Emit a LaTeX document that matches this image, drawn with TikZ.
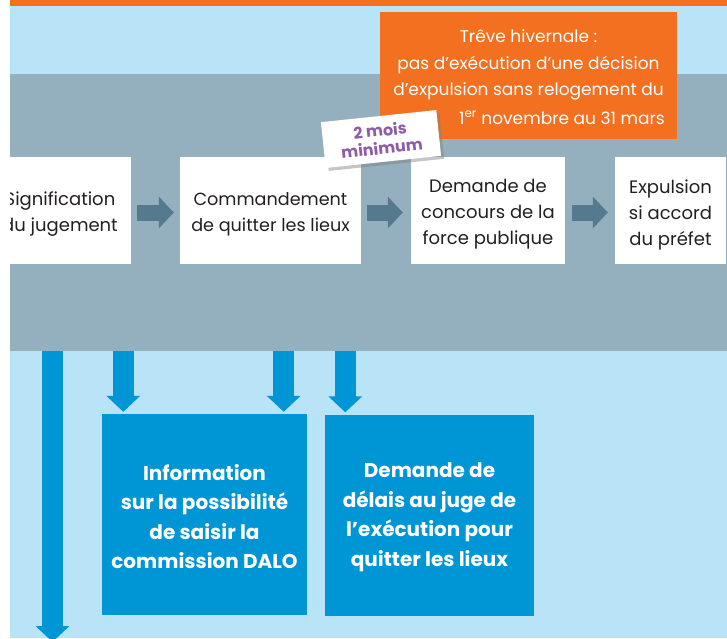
\documentclass[tikz,border=0pt]{standalone}
\usepackage{fontspec}
\setmainfont{Poppins}
\usetikzlibrary{arrows.meta,shadows}
\definecolor{orng}{HTML}{F37021}
\definecolor{lblue}{HTML}{B9E4F8}
\definecolor{bandc}{HTML}{94AFBD}
\definecolor{darr}{HTML}{557A8E}
\definecolor{bblue}{HTML}{0096D6}
\definecolor{purp}{HTML}{8F5BA8}
\definecolor{ink}{HTML}{231F20}
\begin{document}
\begin{tikzpicture}[x=1pt,y=-1pt,
  wbox/.style={fill=white, inner sep=0pt, minimum height=107pt},
  wtext/.style={text=ink, align=center, font=\fontsize{18}{26}\selectfont, inner sep=0pt},
  otext/.style={text=white, align=center, inner sep=0pt, font=\fontsize{17}{26.7}\selectfont},
  bbox/.style={fill=bblue, inner sep=0pt, minimum height=201pt},
  btext/.style={text=white, align=center, font=\bfseries\fontsize{20}{29.5}\selectfont, inner sep=0pt},
  grayarrow/.style={draw=darr, line width=16pt, -{Triangle[width=31pt,length=15pt]}},
  bluearrow/.style={draw=bblue, line width=21pt, -{Triangle[width=33pt,length=16pt]}},
]
\useasboundingbox (0,0) rectangle (727,638);
\fill[white] (0,0) rectangle (727,638);
\begin{scope}
\clip (10,0) rectangle (727,638);
\fill[lblue] (10,0) rectangle (727,638);
\fill[orng] (10,0) rectangle (727,6);
\node[fill=bandc, minimum width=717pt, minimum height=277pt, inner sep=0pt, anchor=north west] (band) at (10,74) {};
% winter truce
\node[fill=orng, minimum width=297pt, minimum height=127pt, inner sep=0pt] (treve) at (528.5,75.5) {};
\node[otext] (trevet) at (528.5,65) {Trêve hivernale :\\ pas d’exécution d’une décision\\ d’expulsion sans relogement du};
\node[otext, anchor=base east] (trevet2) at (665,124) {1\textsuperscript{er} novembre au 31 mars};
% main steps
\node[wbox, minimum width=148pt] (b1) at (57,210.5) {};
\node[wtext] (b1t) at ([xshift=3pt,yshift=-4pt]b1.center) {Signification\\ du jugement};
\node[wbox, minimum width=181pt] (b2) at (270.5,210.5) {};
\node[wtext, font=\fontsize{17.6}{26}\selectfont] (b2t) at ([yshift=-4pt]b2.center) {Commandement\\ de quitter les lieux};
\node[wbox, minimum width=154pt] (b3) at (488,210.5) {};
\node[wtext] (b3t) at ([yshift=-4pt]b3.center) {Demande de\\ concours de la\\ force publique};
\node[wbox, minimum width=111pt] (b4) at (670.5,210.5) {};
\node[wtext] (b4t) at ([yshift=-4pt]b4.center) {Expulsion\\ si accord\\ du préfet};
% tag
\node[fill=white, text=purp, align=center, rotate=6, minimum width=116pt, minimum height=46pt, inner sep=0pt, font=\bfseries\fontsize{16}{18}\selectfont, drop shadow={shadow xshift=3pt, shadow yshift=-3pt, opacity=0.45}] (tag) at (381,139) {2 mois\\ minimum};
% gray arrows
\draw[grayarrow, shorten <=6pt, shorten >=6pt] ([yshift=-2pt]b1.east) -- ([yshift=-2pt]b1.east -| b2.west);
\draw[grayarrow, shorten <=6pt, shorten >=8pt] ([yshift=-2pt]b2.east) -- ([yshift=-2pt]b2.east -| b3.west);
\draw[grayarrow, shorten <=7pt, shorten >=7pt] ([yshift=-2pt]b3.east) -- ([yshift=-2pt]b3.east -| b4.west);
% blue boxes
\node[bbox, minimum width=205pt] (ba) at (204.5,514.5) {};
\node[btext] (bat) at ([yshift=-2pt]ba.center) {Information\\ sur la possibilité\\ de saisir la\\ commission DALO};
\node[bbox, minimum width=209pt] (bb) at (429.5,515) {};
\node[btext] (bbt) at ([yshift=-2pt]bb.center) {Demande de\\ délais au juge de\\ l’exécution pour\\ quitter les lieux};
% blue arrows
\path (ba.north west) ++(21.5,0) coordinate (a1e);
\path (a1e |- band.south) coordinate (a1s);
\path (ba.north east) ++(-23.5,0) coordinate (a2e);
\path (a2e |- band.south) coordinate (a2s);
\path (bb.north west) ++(20.5,0) coordinate (a3e);
\path (a3e |- band.south) coordinate (a3s);
\coordinate (a0e) at (52.5,642);
\path (a0e |- band.south) coordinate (a0s);
\draw[bluearrow, shorten >=2pt] (a1s) -- (a1e);
\draw[bluearrow, shorten >=2pt] (a2s) -- (a2e);
\draw[bluearrow, shorten >=2pt] (a3s) -- (a3e);
\draw[bluearrow] (a0s) -- (a0e);
\end{scope}
\end{tikzpicture}
\end{document}
